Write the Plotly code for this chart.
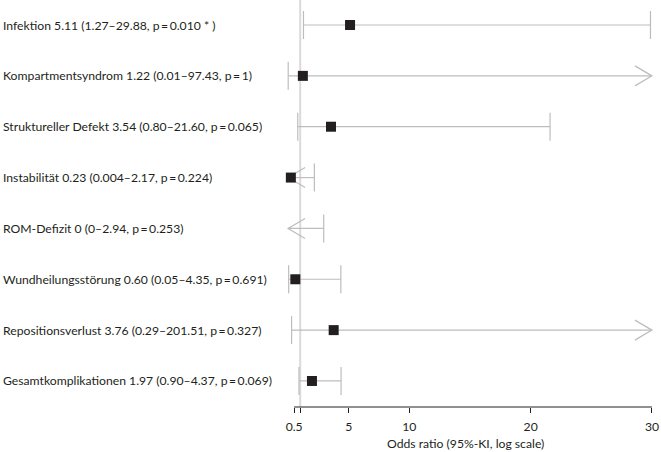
import plotly.graph_objects as go

# ---- data ----
T = "\u2009"  # thin space
labels = [
    f"Infektion 5.11 (1.27–29.88, p{T}={T}0.010 * )",
    f"Kompartmentsyndrom 1.22 (0.01–97.43, p{T}={T}1)",
    f"Struktureller Defekt 3.54 (0.80–21.60, p{T}={T}0.065)",
    f"Instabilität 0.23 (0.004–2.17, p{T}={T}0.224)",
    f"ROM-Defizit 0 (0–2.94, p{T}={T}0.253)",
    f"Wundheilungsstörung 0.60 (0.05–4.35, p{T}={T}0.691)",
    f"Repositionsverlust 3.76 (0.29–201.51, p{T}={T}0.327)",
    f"Gesamtkomplikationen 1.97 (0.90–4.37, p{T}={T}0.069)",
]
odds = [5.11, 1.22, 3.54, 0.23, 0.0, 0.60, 3.76, 1.97]
lower = [1.27, 0.01, 0.80, 0.004, 0.0, 0.05, 0.29, 0.90]
upper = [29.88, 97.43, 21.60, 2.17, 2.94, 4.35, 201.51, 4.37]
tick_vals = [0.5, 1, 5, 10, 20, 30]
tick_text = ["0.5", "", "5", "10", "20", "30"]
x_title = "Odds ratio (95%-KI, log scale)"

# display limits
X_MIN_CLIP = 0.01
X_MAX = 30
REF_X = 1

# ---- style ----
W, H = 661, 452
ML, MR, MT, MB = 282, 3, 0, 45
CI_COLOR = "#bdbdbd"
REF_COLOR = "#dadada"
INK = "#231f20"
FONT = "Lato"
FS = 12.2

rows = list(range(len(labels)))

fig = go.Figure()

# CI lines
lx, ly = [], []
cap_x, cap_y = [], []
shapes = []
for i in rows:
    lo = max(lower[i], 0.0)
    hi = min(upper[i], X_MAX)
    lx += [lo, hi, None]
    ly += [i, i, None]
    if lower[i] >= X_MIN_CLIP:
        cap_x.append(lo); cap_y.append(i)
    else:
        shapes.append(dict(type="path", xref="x", yref="y", xsizemode="pixel", ysizemode="pixel",
                           xanchor=lo, yanchor=i, path="M17,10 L0,0 L17,-10",
                           line=dict(color=CI_COLOR, width=1.2), layer="below"))
    if upper[i] <= X_MAX:
        cap_x.append(hi); cap_y.append(i)
    else:
        shapes.append(dict(type="path", xref="x", yref="y", xsizemode="pixel", ysizemode="pixel",
                           xanchor=hi, yanchor=i, path="M-17,10 L0,0 L-17,-10",
                           line=dict(color=CI_COLOR, width=1.2), layer="below"))

# reference line and axis line
shapes.insert(0, dict(type="line", xref="x", yref="paper", x0=REF_X, x1=REF_X, y0=0, y1=1,
                      line=dict(color=REF_COLOR, width=2), layer="below"))
shapes.append(dict(type="line", xref="x", yref="paper", x0=tick_vals[0], x1=X_MAX, y0=0, y1=0,
                   line=dict(color=INK, width=1)))

fig.add_trace(go.Scatter(x=lx, y=ly, mode="lines", line=dict(color=CI_COLOR, width=1.2),
                         hoverinfo="skip", showlegend=False))
fig.add_trace(go.Scatter(x=cap_x, y=cap_y, mode="markers",
                         marker=dict(symbol="line-ns", size=20, line=dict(color=CI_COLOR, width=1.2)),
                         hoverinfo="skip", showlegend=False))
# point estimates (an odds ratio of 0 has no visible box)
px_ = [o for o in odds if o > 0]
py_ = [i for i, o in zip(rows, odds) if o > 0]
fig.add_trace(go.Scatter(x=px_, y=py_, mode="markers",
                         marker=dict(symbol="square", size=10, color=INK, line=dict(width=0)),
                         showlegend=False, cliponaxis=False))

annotations = []
plot_w = W - ML - MR
for i, lab in enumerate(labels):
    annotations.append(dict(text=lab, xref="paper", yref="y", x=(0.5 - ML) / plot_w, y=i,
                            xanchor="left", yanchor="middle", showarrow=False,
                            font=dict(family=FONT, size=FS, color=INK)))
annotations.append(dict(text=x_title, xref="paper", yref="paper", x=(465 - ML) / plot_w, y=0,
                        xanchor="center", yanchor="middle", yshift=-36, showarrow=False,
                        font=dict(family=FONT, size=FS, color=INK)))

n = len(labels)
fig.update_layout(
    width=W, height=H,
    margin=dict(l=ML, r=MR, t=MT, b=MB),
    paper_bgcolor="white", plot_bgcolor="white",
    shapes=shapes, annotations=annotations,
    xaxis=dict(range=[-0.5, 30.5], tickvals=tick_vals, ticktext=tick_text,
               ticks="outside", ticklen=5, tickcolor=INK, tickwidth=1,
               showgrid=False, zeroline=False, showline=False,
               ticklabelstandoff=3,
               tickfont=dict(family=FONT, size=FS, color=INK)),
    yaxis=dict(range=[n - 1 + 26 / 50.8, -25 / 50.8], showticklabels=False, showgrid=False,
               zeroline=False, showline=False, ticks=""),
)

fig.write_html("out.html")
